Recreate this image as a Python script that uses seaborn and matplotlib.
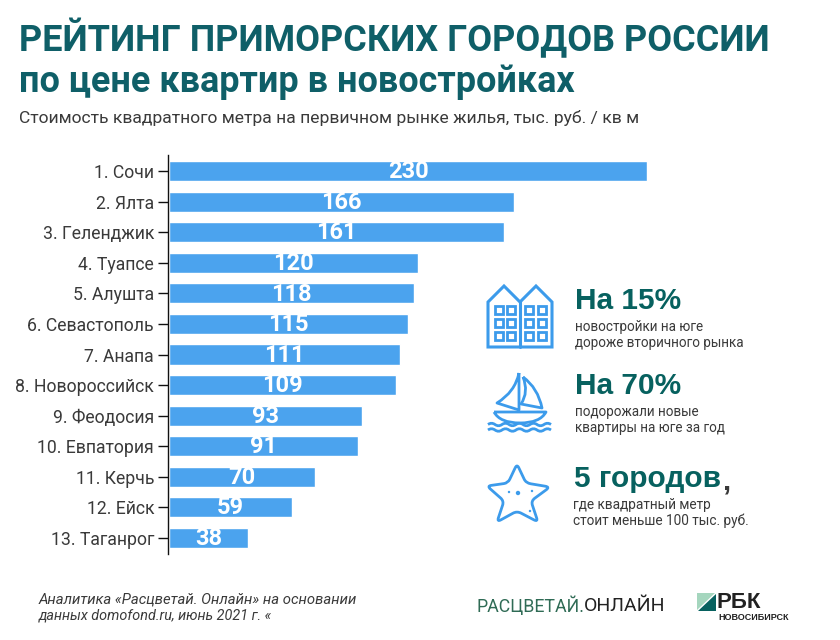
import matplotlib
matplotlib.use("Agg")
import matplotlib.pyplot as plt
import pandas as pd
import seaborn as sns
from matplotlib.patches import Polygon, Circle, Rectangle, PathPatch
from matplotlib.path import Path

W, H = 840, 640
BLUE = "#4BA3EE"
ICON = "#3C9BEB"
TEAL = "#07615F"
TITLE = "#0F5F68"
DARK = "#3A3A3A"

cities = ["1. Сочи", "2. Ялта", "3. Геленджик", "4. Туапсе", "5. Алушта", "6. Севастополь", "7. Анапа",
          "8. Новороссийск", "9. Феодосия", "10. Евпатория", "11. Керчь", "12. Ейск", "13. Таганрог"]
prices = [230, 166, 161, 120, 118, 115, 111, 109, 93, 91, 70, 59, 38]

sns.set_style("white")
plt.rcParams['font.family'] = ['Roboto', 'DejaVu Sans']

df = pd.DataFrame({'city': cities, 'price': prices})

fig = plt.figure(figsize=(W / 100, H / 100), dpi=100)
# оси в пикселях картинки
ax = fig.add_axes([168 / W, 1 - 554 / H, (647 - 168) / W, (554 - 155) / H])
sns.barplot(data=df, x='price', y='city', color=BLUE, saturation=1, width=0.66, ax=ax)
ax.set_xlim(-0.5, 230)
ax.set_ylim(12.5 + 0.03, -0.5 - 0.03)
ax.set_xlabel("")
ax.set_ylabel("")
ax.xaxis.set_visible(False)
for side in ['top', 'right', 'bottom']:
    ax.spines[side].set_visible(False)
ax.spines['left'].set_linewidth(1)
ax.spines['left'].set_color("#111111")
ax.tick_params(axis='y', left=True, length=7, width=1, color="#111111", pad=3, labelsize=12.7, labelcolor=DARK)

for i, v in enumerate(prices):
    ax.text(v / 2, i + 0.02, str(v), ha='center', va='center', color='white', fontsize=17, fontweight='bold')

# слой для заголовков и значков, координаты в пикселях
ov = fig.add_axes([0, 0, 1, 1], facecolor='none')
ov.set_xlim(0, W)
ov.set_ylim(H, 0)
ov.axis('off')

ov.text(19, 39.5, "РЕЙТИНГ ПРИМОРСКИХ ГОРОДОВ РОССИИ", color=TITLE, fontsize=25.9, fontweight='bold', va='center')
ov.text(19, 82, "по цене квартир в новостройках", color=TITLE, fontsize=25.9, fontweight='bold', va='center')
ov.text(19, 118, "Стоимость квадратного метра на первичном рынке жилья, тыс. руб. / кв м", color=DARK,
        fontsize=12.6, va='center')

# блоки справа
ov.text(575, 301, "На 15%", color=TEAL, fontsize=21.5, fontweight='bold', family=['Liberation Sans'], va='center')
ov.text(575, 327, "новостройки на юге", color=DARK, fontsize=9.75, va='center')
ov.text(575, 343, "дороже вторичного рынка", color=DARK, fontsize=9.75, va='center')
ov.text(575, 386, "На 70%", color=TEAL, fontsize=21.5, fontweight='bold', family=['Liberation Sans'], va='center')
ov.text(575, 412, "подорожали новые", color=DARK, fontsize=9.75, va='center')
ov.text(575, 428, "квартиры на юге за год", color=DARK, fontsize=9.75, va='center')
ov.text(574, 479, "5 городов", color=TEAL, fontsize=21.5, fontweight='bold', family=['Liberation Sans'], va='center')
ov.text(722, 482, ",", color=DARK, fontsize=21, fontweight='bold', family=['Liberation Sans'], va='center')
ov.text(573, 505, "где квадратный метр", color=DARK, fontsize=9.85, va='center')
ov.text(573, 521, "стоит меньше 100 тыс. руб.", color=DARK, fontsize=9.85, va='center')

# подпись
ov.text(39, 599, "Аналитика «Расцветай. Онлайн» на основании", color=DARK, fontsize=10.7, style='italic', va='center')
ov.text(39, 616, "данных domofond.ru, июнь 2021 г. «", color=DARK, fontsize=10.4, style='italic', va='center')

# логотипы
ov.text(476, 606, "РАСЦВЕТАЙ.", color="#2F6B55", fontsize=12.8, va='center')
ov.text(665, 606, "ОНЛАЙН", color="#222222", fontsize=14, va='center', ha='right')
ov.add_patch(Polygon([(697, 593), (715, 593), (697, 610)], fc="#A5D6BE", ec='none'))
ov.add_patch(Polygon([(716, 594), (716, 611), (698, 611)], fc="#07615F", ec='none'))
ov.text(717, 602, "РБК", color="#222222", fontsize=16, fontweight='bold', family=['Liberation Sans'], va='center')
ov.text(718, 617, "НОВОСИБИРСК", color="#222222", fontsize=6.5, fontweight='bold', family=['Liberation Sans'], va='center')

# дома
ov.add_patch(Polygon([(488, 347), (488, 302), (504, 286), (520, 302), (536, 286), (552, 302), (552, 347)],
                     fc='none', ec=ICON, lw=2.2))
ov.plot([520, 520], [302, 347], color=ICON, lw=2.2)
for x0 in [495, 507, 525, 538]:
    for y0 in [306, 319, 332]:
        ov.add_patch(Rectangle((x0, y0), 8, 8, fc='none', ec=ICON, lw=2))

# лодка
M, L, C = Path.MOVETO, Path.LINETO, Path.CURVE3
ov.add_patch(PathPatch(Path([(519, 373), (515, 392), (497, 403), (519, 410), (519, 373)], [M, C, C, L, L]),
                       fc='none', ec=ICON, lw=2, joinstyle='round'))
ov.add_patch(PathPatch(Path([(523, 377), (538, 388), (542, 408), (521, 404), (529, 392), (523, 377)],
                            [M, C, C, L, C, C]), fc='none', ec=ICON, lw=2, joinstyle='round'))
ov.add_patch(PathPatch(Path([(494, 412), (546, 412), (540, 423), (520, 423), (500, 423), (494, 412)],
                            [M, L, C, C, C, C]), fc='none', ec=ICON, lw=2, joinstyle='round'))
for yw in [424.5, 430]:
    verts = [(488, yw)]
    codes = [M]
    xw = 488
    k = 0
    while xw < 551:
        verts += [(xw + 3.5, yw + (2.5 if k % 2 else -2.5)), (xw + 7, yw)]
        codes += [C, C]
        xw += 7
        k += 1
    ov.add_patch(PathPatch(Path(verts, codes), fc='none', ec=ICON, lw=2))


def toward(a, b, f):
    return (a[0] + (b[0] - a[0]) * f, a[1] + (b[1] - a[1]) * f)


# морская звезда
tips = [(517, 464), (550, 487), (538, 522), (497, 522), (487, 486)]
inner = [(526, 483), (531, 501), (517, 511), (504, 501), (508, 483)]
verts = []
codes = []
for i in range(5):
    t = tips[i]
    a = inner[i - 1]
    b = inner[i]
    nt = tips[(i + 1) % 5]
    verts += [toward(a, t, 0.8), t, toward(b, t, 0.8), toward(b, t, 0.2), b, toward(b, nt, 0.2)]
    codes += [L, C, C, L, C, C]
codes[0] = M
verts.append(verts[0])
codes.append(L)
ov.add_patch(PathPatch(Path(verts, codes), fc='none', ec=ICON, lw=2, joinstyle='round'))
for x0, y0, r in [(518, 493, 2.2), (509, 492, 1.2), (532, 491, 1.2), (530, 511, 1.2)]:
    ov.add_patch(Circle((x0, y0), r, fc=ICON, ec='none'))

fig.savefig("out.png", dpi=100)
